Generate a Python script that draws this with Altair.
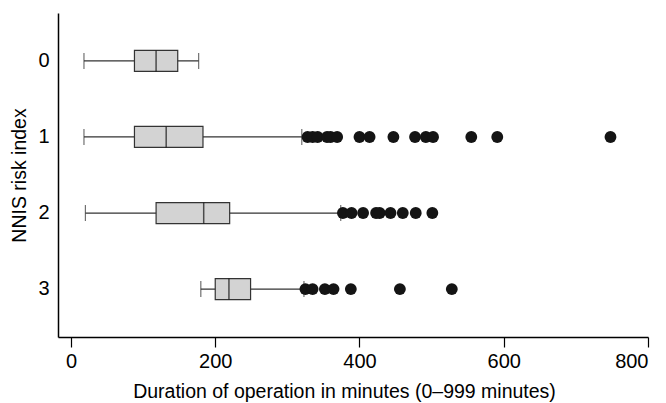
import altair as alt
import pandas as pd

risk = ["0", "1", "2", "3"]
whisk_lo = [18, 18, 20, 180]
q1 = [88, 88, 118, 200]
median = [118, 132, 184, 219]
q3 = [148, 183, 220, 249]
whisk_hi = [177, 320, 374, 323]

out_1 = [328, 335, 342, 355, 360, 369, 400, 414, 447, 477, 492, 502, 555, 591, 748]
out_2 = [377, 389, 405, 423, 428, 443, 460, 478, 501]
out_3 = [325, 335, 352, 364, 388, 456, 528]

stats = pd.DataFrame({"risk": risk, "lo": whisk_lo, "q1": q1, "med": median,
                      "q3": q3, "hi": whisk_hi})
outs = pd.DataFrame({
    "risk": ["1"] * len(out_1) + ["2"] * len(out_2) + ["3"] * len(out_3),
    "v": out_1 + out_2 + out_3,
})

FONT = "Liberation Sans"
xscale = alt.Scale(domain=[-18, 800], nice=False, zero=False)
yscale = alt.Scale(domain=risk, paddingInner=0, paddingOuter=0.13)

yenc = alt.Y("risk:N", scale=yscale, sort=risk,
             axis=alt.Axis(title="NNIS risk index", ticks=False, labelPadding=9,
                           domainColor="black", domainWidth=1.5, labelAngle=0,
                           labelFontSize=20, titleFontSize=19.5, labelFont=FONT,
                           titleFont=FONT, titleFontWeight="normal",
                           labelColor="black", titleColor="black", titlePadding=8))
xaxis = alt.Axis(title="Duration of operation in minutes (0–999 minutes)",
                 values=[0, 200, 400, 600, 800], tickSize=10, tickColor="black",
                 tickWidth=1.2, domainColor="black", domainWidth=1.5,
                 labelFontSize=20, titleFontSize=19.5, labelFont=FONT, titleFont=FONT,
                 titleFontWeight="normal", labelColor="black", titleColor="black",
                 labelPadding=4, titlePadding=11, titleX=286, grid=False)

base = alt.Chart(stats)

whisk = base.mark_rule(color="#333333", strokeWidth=1.2).encode(
    x=alt.X("lo:Q", scale=xscale, axis=xaxis), x2="hi:Q", y=yenc)
box = base.mark_bar(size=21, color="#d3d3d3", stroke="#333333", strokeWidth=1.2).encode(
    x=alt.X("q1:Q", scale=xscale), x2="q3:Q", y=alt.Y("risk:N", scale=yscale, sort=risk))
med = base.mark_tick(orient="vertical", size=21, thickness=1.5, color="#111111").encode(
    x=alt.X("med:Q", scale=xscale), y=alt.Y("risk:N", scale=yscale, sort=risk))
cap_lo = base.mark_tick(orient="vertical", size=16, thickness=1.2, color="#333333").encode(
    x=alt.X("lo:Q", scale=xscale), y=alt.Y("risk:N", scale=yscale, sort=risk))
cap_hi = base.mark_tick(orient="vertical", size=16, thickness=1.2, color="#333333").encode(
    x=alt.X("hi:Q", scale=xscale), y=alt.Y("risk:N", scale=yscale, sort=risk))
pts = alt.Chart(outs).mark_circle(size=140, color="#141414", opacity=1).encode(
    x=alt.X("v:Q", scale=xscale), y=alt.Y("risk:N", scale=yscale, sort=risk))

chart = alt.layer(whisk, box, med, cap_lo, cap_hi, pts).properties(
    width=590, height=324,
    autosize=alt.AutoSizeParams(type="none"),
    padding={"left": 50, "top": 5, "right": 10, "bottom": 66},
).configure_view(stroke=None).configure_axis(grid=False)

chart.save("out.html", embed_options={"renderer": "svg", "actions": False})
